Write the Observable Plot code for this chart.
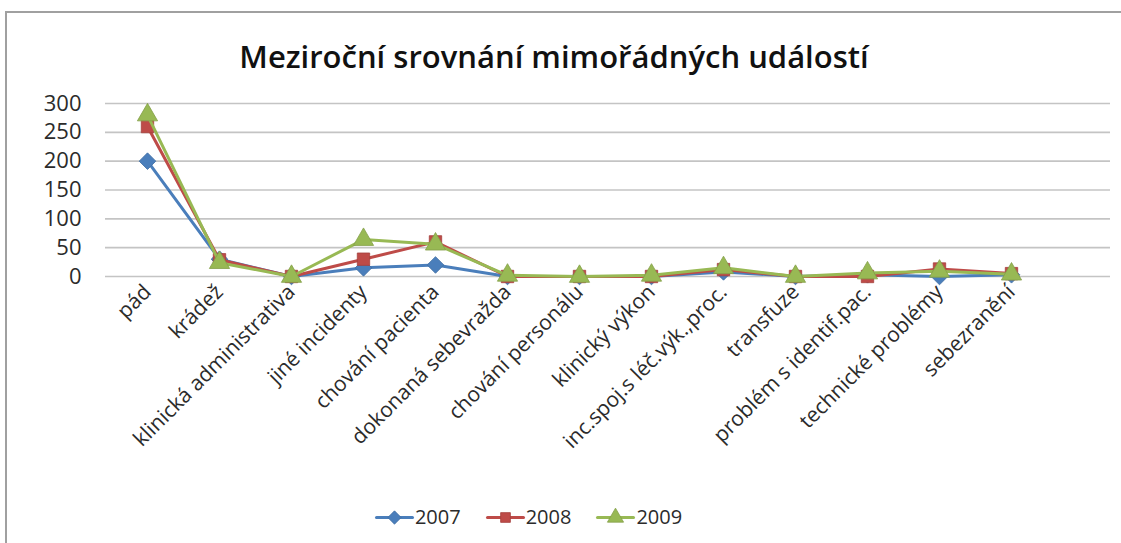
<!DOCTYPE html>
<html>
<head>
<meta charset="utf-8">
<script src="https://cdn.jsdelivr.net/npm/d3@7"></script>
<script src="https://cdn.jsdelivr.net/npm/@observablehq/plot@0.6"></script>
<style>
  html, body { margin: 0; padding: 0; background: #fff; }
  #frame { position: relative; width: 1121px; height: 543px; overflow: hidden; background: #fff; font-family: "Open Sans", sans-serif; }
  #border { position: absolute; left: 5px; top: 11px; width: 1130px; height: 560px; border: 2px solid #a0a0a0; box-sizing: border-box; }
  #title { position: absolute; left: 0; width: 1108px; top: 35px; text-align: center; font-size: 31px; font-weight: 600; color: #111; }
  #chart { position: absolute; left: 0; top: 80px; }
  #legend { position: absolute; left: 0; width: 1058px; top: 503px; display: flex; justify-content: center; align-items: center; gap: 26px; font-size: 20px; color: #2b2b2b; }
  .item { display: flex; align-items: center; gap: 3px; }
</style>
</head>
<body>
<div id="frame">
  <div id="border"></div>
  <div id="title">Meziroční srovnání mimořádných událostí</div>
  <div id="chart"></div>
  <div id="legend"></div>
</div>
<script>
const categories = ["pád", "krádež", "klinická administrativa", "jiné incidenty", "chování pacienta", "dokonaná sebevražda", "chování personálu", "klinický výkon", "inc.spoj.s léč.výk.,proc.", "transfuze", "problém s identif.pac.", "technické problémy", "sebezranění"];
const years = ["2007", "2008", "2009"];
const v2007 = [200, 30, 0, 15, 20, 0, 0, 0, 8, 0, 3, 0, 3];
const v2008 = [260, 29, 0, 30, 60, 0, 0, 0, 12, 0, 0, 13, 5];
const v2009 = [280, 24, 0, 64, 56, 2, 0, 2, 15, 0, 6, 9, 4];
const yTicks = [0, 50, 100, 150, 200, 250, 300];

const seriesValues = [v2007, v2008, v2009];
const colors = ["#4a7ebb", "#be4b48", "#98b954"];
const symbols = ["diamond2", "square", "triangle"];
const radii = [7.5, 7, 7.5];

const rows = years.map((yr, i) => seriesValues[i].map((v, j) => ({year: yr, cat: categories[j], value: v})));

const marks = [
  Plot.ruleY(yTicks, {stroke: "#c4c4c4", strokeWidth: 1.6})
];
years.forEach((yr, i) => {
  marks.push(Plot.line(rows[i], {x: "cat", y: "value", stroke: colors[i], strokeWidth: 3}));
  marks.push(Plot.dot(rows[i], {x: "cat", y: "value", symbol: symbols[i], r: radii[i], fill: colors[i], stroke: d3.color(colors[i]).darker(0.4).formatHex(), strokeWidth: 0.8}));
});
marks.push(Plot.axisY({ticks: yTicks, tickSize: 0, tickPadding: 24, label: null, fontSize: 22}));
marks.push(Plot.axisX({tickRotate: -45, tickSize: 0, tickPadding: 12, label: null, fontSize: 21}));

const chart = Plot.plot({
  width: 1121,
  height: 396,
  marginLeft: 105,
  marginRight: 11,
  marginTop: 23,
  marginBottom: 200,
  style: {fontFamily: "Open Sans", color: "#2b2b2b", background: "transparent", overflow: "visible"},
  x: {type: "point", domain: categories, range: [143, 1015], padding: 0},
  y: {domain: [0, 300]},
  marks
});
document.getElementById("chart").appendChild(chart);

// legend
const legend = document.getElementById("legend");
years.forEach((yr, i) => {
  const item = document.createElement("div");
  item.className = "item";
  const sw = Plot.plot({
    width: 36, height: 20, margin: 0,
    x: {domain: [0, 1], range: [0, 36]}, y: {domain: [0, 1], range: [20, 0]},
    axis: null,
    style: {background: "transparent", overflow: "visible"},
    marks: [
      Plot.lineY([{x: 0, y: 0.5}, {x: 1, y: 0.5}], {x: "x", y: "y", stroke: colors[i], strokeWidth: 3}),
      Plot.dot([{x: 0.5, y: 0.5}], {x: "x", y: "y", symbol: symbols[i], r: radii[i] - 1.5, fill: colors[i], stroke: d3.color(colors[i]).darker(0.4).formatHex(), strokeWidth: 0.8})
    ]
  });
  item.appendChild(sw);
  const t = document.createElement("span");
  t.textContent = yr;
  item.appendChild(t);
  legend.appendChild(item);
});
</script>
</body>
</html>
